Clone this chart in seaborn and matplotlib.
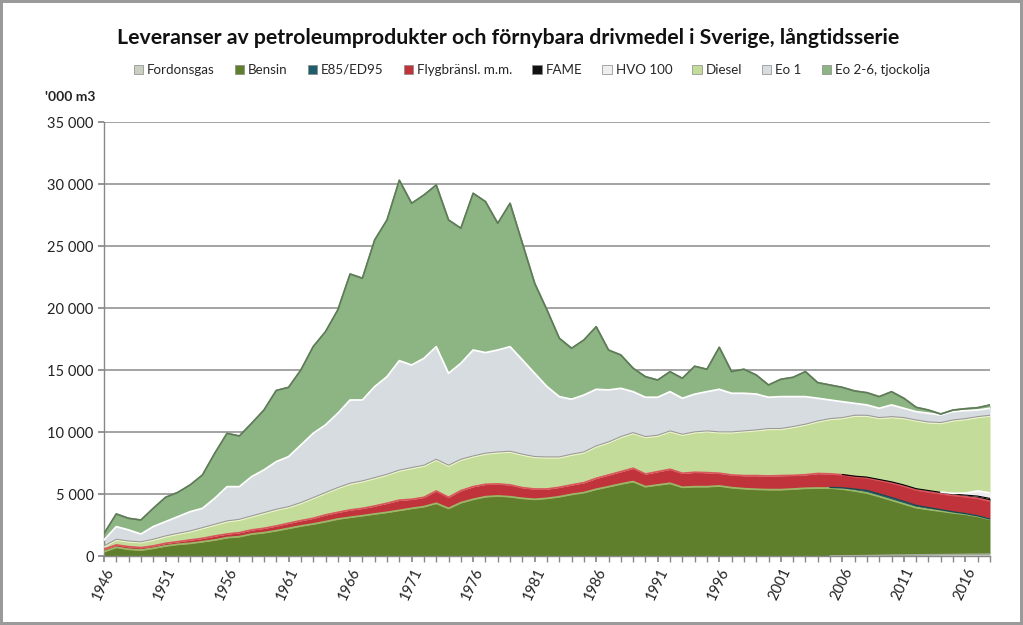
import numpy as np
import pandas as pd
import matplotlib
matplotlib.use("Agg")
import matplotlib.pyplot as plt
from matplotlib.patches import Patch
import seaborn as sns

# ------------------------------------------------------------------ data ---
years = list(range(1946, 2019))

fordonsgas = [0] * 59 + [20, 25, 30, 40, 60, 80, 90, 100, 110, 120, 130, 140, 150, 160]

bensin = [350, 700, 540, 480, 620, 810, 940, 1020, 1150, 1290,
          1480, 1560, 1770, 1880, 2040, 2230, 2420, 2580, 2770, 2980,
          3120, 3250, 3390, 3520, 3680, 3840, 3980, 4250, 3840, 4300,
          4570, 4780, 4840, 4780, 4650, 4570, 4650, 4780, 4970, 5110,
          5380, 5590, 5810, 6000, 5590, 5730, 5860, 5540, 5590, 5590,
          5650, 5510, 5430, 5380, 5350, 5350, 5400, 5460, 5480, 5460,
          5375, 5220, 5040, 4740, 4420, 4110, 3800, 3640, 3500, 3350,
          3230, 3050, 2790]

e85 = [0] * 59 + [50, 100, 150, 200, 200, 210, 200, 180, 150, 110, 80, 50, 40, 30]

flyg = [190, 190, 210, 190, 190, 210, 210, 270, 270, 320,
        290, 320, 330, 350, 380, 410, 430, 460, 540, 540,
        590, 590, 640, 730, 820, 730, 750, 990, 890, 970,
        1020, 1000, 970, 950, 860, 830, 750, 760, 760, 800,
        880, 940, 990, 1070, 1020, 1070, 1130, 1130, 1160, 1130,
        1020, 1020, 1050, 1100, 1100, 1130, 1100, 1090, 1170, 1090,
        1050, 1000, 1020, 1100, 1190, 1240, 1250, 1270, 1290, 1330,
        1360, 1410, 1440]

fame = [0] * 60 + [20, 40, 60, 70, 80, 90, 100, 110, 110, 110, 130, 180, 220]

hvo100 = [0] * 68 + [30, 50, 160, 420, 450]

diesel = [210, 400, 400, 410, 480, 540, 620, 670, 810, 890,
          1000, 1020, 1070, 1210, 1290, 1280, 1400, 1610, 1750, 1940,
          2100, 2160, 2230, 2280, 2370, 2500, 2530, 2500, 2530, 2470,
          2420, 2450, 2520, 2660, 2640, 2560, 2530, 2390, 2420, 2420,
          2560, 2610, 2770, 2820, 2960, 2880, 3040, 3090, 3200, 3310,
          3280, 3420, 3550, 3630, 3770, 3740, 3880, 4020, 4180, 4400,
          4530, 4850, 4930, 4930, 5200, 5370, 5480, 5470, 5540, 5860,
          5950, 5930, 6200]

eo1 = [540, 1080, 950, 690, 1080, 1210, 1400, 1610, 1610, 2150,
       2820, 2690, 3230, 3500, 3900, 4090, 4700, 5240, 5510, 6050,
       6770, 6580, 7400, 7930, 8880, 8330, 8680, 9140, 7470, 7800,
       8600, 8170, 8280, 8490, 7660, 6770, 5730, 4920, 4490, 4650,
       4620, 4250, 3950, 3360, 3230, 3120, 3220, 2960, 3100, 3220,
       3490, 3170, 3090, 2950, 2580, 2630, 2470, 2280, 1890, 1560,
       1340, 1020, 890, 810, 1000, 810, 730, 760, 670, 730,
       700, 590, 620]

eo2_6 = [510, 1020, 940, 1130, 1470, 1960, 1960, 2160, 2690, 3630,
         4300, 4090, 4300, 4830, 5740, 5590, 6050, 6990, 7520, 8330,
         10160, 9820, 11830, 12640, 14550, 13040, 13170, 13040, 12370, 10890,
         12640, 12180, 10220, 11560, 9410, 7260, 6180, 4710, 4110, 4440,
         5050, 3220, 2690, 1890, 1660, 1390, 1610, 1610, 2250, 1810,
         3390, 1750, 1940, 1540, 990, 1400, 1560, 2020, 1260, 1210,
         1160, 1000, 990, 940, 1070, 810, 350, 260, 80, 130,
         160, 190, 270]

series = ["Fordonsgas", "Bensin", "E85/ED95", "Flygbränsl. m.m.", "FAME",
          "HVO 100", "Diesel", "Eo 1", "Eo 2-6, tjockolja"]
colors = ["#c9cfc2", "#5f7f2c", "#1d5e6a", "#c1333b", "#111111",
          "#eeeeee", "#c4dc9a", "#d7dce1", "#8db584"]
edges = ["#a6ad9f", "#9bb866", "#174a54", "#d9565c", "#000000",
         "#ffffff", "#eef6c8", "#ffffff", "#6e8f66"]
widths = [1.0, 1.3, 1.0, 1.3, 0.8, 1.2, 1.3, 1.3, 1.3]

df = pd.DataFrame({
    "Fordonsgas": fordonsgas, "Bensin": bensin, "E85/ED95": e85,
    "Flygbränsl. m.m.": flyg, "FAME": fame, "HVO 100": hvo100,
    "Diesel": diesel, "Eo 1": eo1, "Eo 2-6, tjockolja": eo2_6,
}, index=years)

# ------------------------------------------------------------------ plot ---
sns.set_theme(style="white")
plt.rcParams["font.family"] = ["Lato", "DejaVu Sans"]

fig = plt.figure(figsize=(10.23, 6.25), dpi=100)
ax = fig.add_axes([104 / 1023, 1 - 556 / 625, 886 / 1023, 434 / 625])

ax.stackplot(df.index, [df[s].values for s in series], colors=colors,
             linewidth=0, zorder=2)

# layer edges (mimic the bevelled look), only where the layer exists
cum = df[series].cumsum(axis=1)
for s, ec, w in zip(series, edges, widths):
    top = cum[s].where(df[s] > 0)
    sns.lineplot(x=df.index, y=top.values, ax=ax, color=ec, lw=w, zorder=3,
                 legend=False)
ax.plot(df.index, cum["Eo 2-6, tjockolja"].values, color="#5f7a58", lw=1.0, zorder=4)
ax.plot(df.index, cum["Diesel"].values + 60, color="#9a9a9a", lw=0.8, zorder=4)

ax.set_xlim(1946, 2018)
ax.set_ylim(0, 35000)
ax.set_yticks(np.arange(0, 35001, 5000))
ax.set_yticklabels([f"{v:,.0f}".replace(",", " ") for v in np.arange(0, 35001, 5000)],
                   fontsize=10.5, color="#222222")
ax.yaxis.grid(True, color="#8a8a8a", lw=1.1, zorder=0)
ax.set_axisbelow(True)
ax.set_xlabel("")
ax.set_ylabel("")

ax.set_xticks(years, minor=True)
ax.set_xticks(list(range(1946, 2019, 5)))
ax.set_xticklabels([str(y) for y in range(1946, 2019, 5)], rotation=65,
                   ha="right", rotation_mode="anchor", fontsize=10.5, color="#222222")
ax.tick_params(axis="x", which="both", direction="out", length=4, color="#888888",
               bottom=True, pad=3)
ax.tick_params(axis="y", direction="out", length=4, color="#888888", left=True)

for side in ["top", "right"]:
    ax.spines[side].set_visible(False)
for side in ["left", "bottom"]:
    ax.spines[side].set_color("#888888")
    ax.spines[side].set_linewidth(1.0)

fig.text(0.497, 0.94, "Leveranser av petroleumprodukter och förnybara drivmedel i Sverige, långtidsserie",
         ha="center", va="center", fontsize=15.3, fontweight="bold", color="#111111")
fig.text(0.044, 0.845, "'000 m3", ha="left", va="center", fontsize=10,
         fontweight="bold", color="#222222")

handles = [Patch(facecolor=c, edgecolor="#888888", lw=0.5) for c in colors]
fig.legend(handles, series, loc="center", bbox_to_anchor=(0.52, 0.888), ncol=9,
           frameon=False, fontsize=9.6, handlelength=0.7, handleheight=0.7,
           handletextpad=0.3, columnspacing=1.5)

fig.patch.set_edgecolor("#9a9a9a")
fig.patch.set_linewidth(3)
fig.savefig("out.png", dpi=100, edgecolor=fig.get_edgecolor())
